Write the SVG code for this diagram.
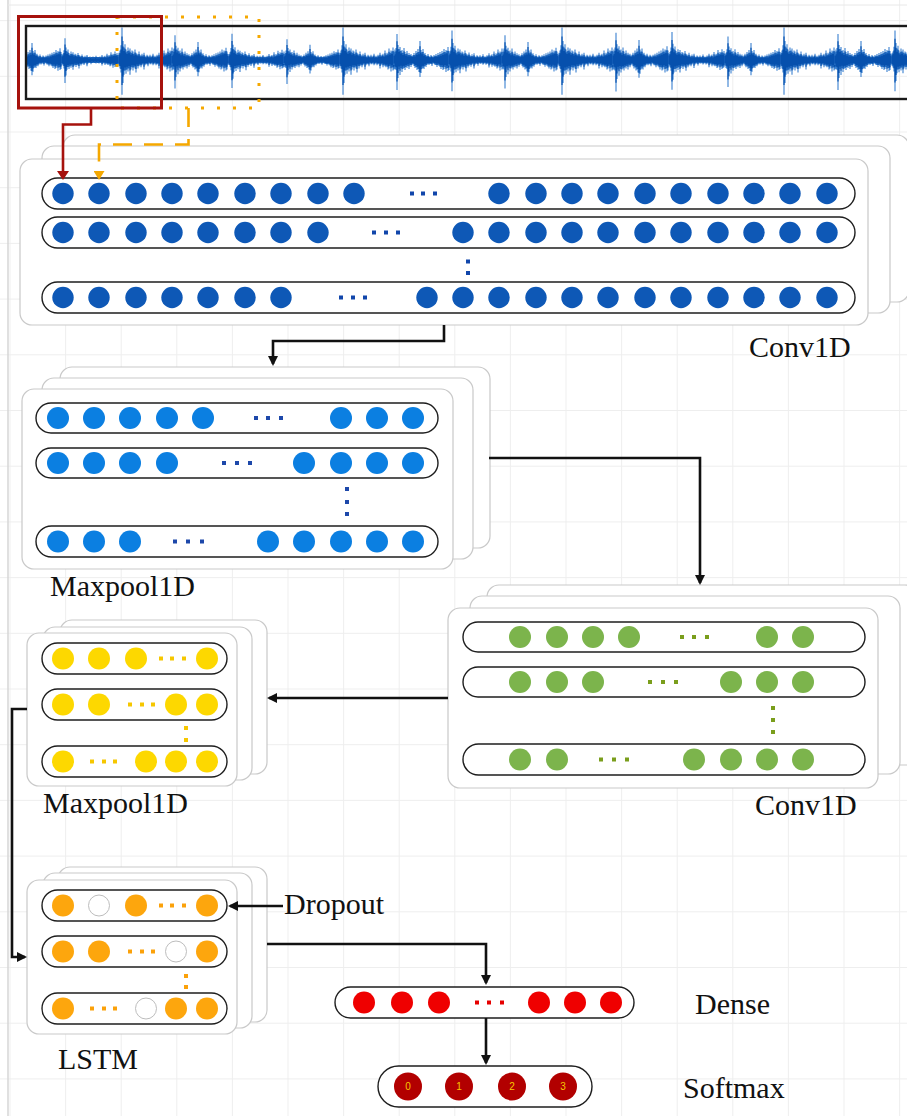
<svg xmlns="http://www.w3.org/2000/svg" xmlns:xlink="http://www.w3.org/1999/xlink" width="907" height="1116" viewBox="0 0 907 1116">
  <style>
    .card{fill:#fff;stroke:#c9c9c9;stroke-width:1.2}
    .pill{fill:#fff;stroke:#1e1e1e;stroke-width:1.4}
    .lbl{font-family:"Liberation Serif","Times New Roman",serif;font-size:30px;fill:#111}
    .num{font-family:"Liberation Sans",Arial,sans-serif;font-size:10px;fill:#f7c600;text-anchor:middle}
    .wire{fill:none;stroke:#111;stroke-width:2.6}
    .c1{fill:#0e58b6}.d1{fill:#1146ab}
    .c2{fill:#0b7fe1}.d2{fill:#1d48aa}
    .c3{fill:#7cb44c}.d3{fill:#7a9e1c}
    .c4{fill:#fdd800}.d4{fill:#f6c700}
    .c5{fill:#fda60d}.d5{fill:#fba10a}
    .cw{fill:#fff;stroke:#bdbdbd;stroke-width:1}
    .c6{fill:#ef0000}.d6{fill:#e60000}
    .c7{fill:#b20000}
    .wl{fill:none;stroke:#3a80d0;stroke-width:1.1}
    .wd{fill:none;stroke:#0650ad;stroke-width:1.15}
  </style>
  <defs>
    <pattern id="grid" x="9.5" y="20.1" width="55.6" height="55.7" patternUnits="userSpaceOnUse">
      <path d="M0 0.5H55.6M0.5 0V55.7" fill="none" stroke="#eeeeee" stroke-width="1"/>
    </pattern>
    <clipPath id="waveClip"><rect x="27" y="27" width="880" height="71"/></clipPath>
    <marker id="ah" viewBox="0 0 10 10" refX="8" refY="5" markerWidth="10" markerHeight="10" markerUnits="userSpaceOnUse" orient="auto">
      <path d="M0 0L10 5L0 10z" fill="#111"/>
    </marker>
    <marker id="ahRed" viewBox="0 0 9 12" refX="7" refY="6" markerWidth="9" markerHeight="12" markerUnits="userSpaceOnUse" orient="auto">
      <path d="M0 0L9 6L0 12z" fill="#a6120d"/>
    </marker>
    <marker id="ahOrange" viewBox="0 0 9 11" refX="7" refY="5.5" markerWidth="9" markerHeight="11" markerUnits="userSpaceOnUse" orient="auto">
      <path d="M0 0L9 5.5L0 11z" fill="#f5a800"/>
    </marker>
    <!-- one burst of the vibration signal, drawn as vertical sample strokes -->
    <path id="pA" d="M0-7V6M1-9V8M2-14V12M3-31V33M4-18V22M5-12V14M6-15V10M7-10V13M8-8V9M9-12V11M10-9V8M11-11V14M12-7V9M13-9V7M14-8V10M15-6V7M16-10V8M17-7V12M18-6V6M19-5V8M20-8V6M21-5V5M22-4V7M23-6V5M24-4V4M25-7V9M26-4V5M27-3V4M28-5V4M29-4V6M30-3V3M31-5V4M32-3V4M33-4V3M34-6V5M35-3V4M36-4V3M37-3V5M38-5V4M39-4V4M40-7V8M41-4V5M42-5V4M43-6V7M44-4V5M45-9V6M46-5V7M47-7V6M48-6V9M49-11V8M50-7V6M51-9V11M52-8V7M53-12V10M54-8V9M55-10V8M56-7V6"/>
    <path id="pB" d="M0-6V5M1-8V9M2-12V10M3-26V30M4-15V18M5-11V9M6-13V15M7-9V8M8-10V12M9-7V9M10-12V8M11-8V10M12-6V7M13-9V8M14-5V6M15-7V9M16-5V5M17-6V7M18-4V5M19-5V4M20-7V6M21-5V8M22-9V7M23-7V10M24-11V9M25-8V12M26-19V17M27-10V13M28-8V9M29-11V8M30-6V9M31-7V6M32-5V7M33-4V5M34-6V4M35-4V5M36-3V4M37-5V4M38-4V6M39-3V3M40-5V4M41-4V5M42-6V5M43-4V7M44-7V5M45-5V6M46-8V7M47-6V9M48-9V7M49-7V10M50-11V9M51-8V7M52-10V12M53-9V8M54-13V11M55-9V10M56-6V5"/>
    <g id="bA"><use xlink:href="#pA" class="wl"/><use xlink:href="#pA" class="wd" transform="scale(1,0.72)"/></g>
    <g id="bB"><use xlink:href="#pB" class="wl"/><use xlink:href="#pB" class="wd" transform="scale(1,0.72)"/></g>
  </defs>

  <!-- page background and drawing grid -->
  <rect x="0" y="0" width="907" height="1116" fill="#fff"/>
  <rect x="0" y="0" width="907" height="1116" fill="url(#grid)"/>
  <path d="M8 0V1116" stroke="#d6d6d6" stroke-width="1.5"/>
  <path d="M8 5H907" stroke="#e8e8e8" stroke-width="1"/>

  <!-- input signal strip -->
  <g id="wave">
    <g clip-path="url(#waveClip)">
      <rect x="27" y="57" width="880" height="6" fill="#0650ad"/>
      <use xlink:href="#bB" transform="translate(6,60) scale(1,0.9)"/>
      <use xlink:href="#bA" transform="translate(62,60) scale(1,0.7)"/>
      <use xlink:href="#bA" transform="translate(119,60) scale(1,1.05)"/>
      <use xlink:href="#bB" transform="translate(172,60) scale(1,0.95)"/>
      <use xlink:href="#bA" transform="translate(229,60) scale(1,0.85)"/>
      <use xlink:href="#bB" transform="translate(284,60) scale(1,0.8)"/>
      <use xlink:href="#bA" transform="translate(340,60) scale(1,1.05)"/>
      <use xlink:href="#bB" transform="translate(394,60) scale(1,1)"/>
      <use xlink:href="#bA" transform="translate(449,60) scale(1,0.95)"/>
      <use xlink:href="#bB" transform="translate(502,60) scale(1,0.95)"/>
      <use xlink:href="#bA" transform="translate(559,60) scale(1,1.05)"/>
      <use xlink:href="#bB" transform="translate(613,60) scale(1,1.05)"/>
      <use xlink:href="#bA" transform="translate(669,60) scale(1,0.9)"/>
      <use xlink:href="#bB" transform="translate(725,60) scale(1,0.9)"/>
      <use xlink:href="#bA" transform="translate(781,60) scale(1,1.05)"/>
      <use xlink:href="#bB" transform="translate(835,60) scale(1,1)"/>
      <use xlink:href="#bA" transform="translate(892,60) scale(1,0.95)"/>
    </g>
    <rect x="26" y="26" width="895" height="73" fill="none" stroke="#1a1a1a" stroke-width="2.4"/>
    <!-- sliding window frames -->
    <rect x="117" y="17" width="142" height="91" fill="none" stroke="#f5a800" stroke-width="3" stroke-dasharray="3 13"/>
    <rect x="18.5" y="16.5" width="143" height="91.5" fill="none" stroke="#a6120d" stroke-width="3"/>
  </g>

  <!-- first convolution layer -->
  <g id="conv1">
    <rect class="card" x="63" y="135" width="846" height="167" rx="12"/>
    <rect class="card" x="42" y="146" width="848" height="167" rx="12"/>
    <rect class="card" x="20" y="159" width="848" height="166" rx="12"/>
    <rect class="pill" x="42" y="178" width="813" height="31" rx="15.5"/>
    <rect class="pill" x="42" y="217" width="813" height="31" rx="15.5"/>
    <rect class="pill" x="42" y="282" width="813" height="31" rx="15.5"/>
    <g class="c1">
      <circle cx="63" cy="193.5" r="10.7"/><circle cx="99" cy="193.5" r="10.7"/><circle cx="136" cy="193.5" r="10.7"/><circle cx="172" cy="193.5" r="10.7"/><circle cx="208" cy="193.5" r="10.7"/><circle cx="245" cy="193.5" r="10.7"/><circle cx="281" cy="193.5" r="10.7"/><circle cx="318" cy="193.5" r="10.7"/><circle cx="354" cy="193.5" r="10.7"/>
      <circle cx="499" cy="193.5" r="10.7"/><circle cx="536" cy="193.5" r="10.7"/><circle cx="572" cy="193.5" r="10.7"/><circle cx="608" cy="193.5" r="10.7"/><circle cx="645" cy="193.5" r="10.7"/><circle cx="681" cy="193.5" r="10.7"/><circle cx="718" cy="193.5" r="10.7"/><circle cx="754" cy="193.5" r="10.7"/><circle cx="790" cy="193.5" r="10.7"/><circle cx="827" cy="193.5" r="10.7"/>
      <circle cx="63" cy="232.5" r="10.7"/><circle cx="99" cy="232.5" r="10.7"/><circle cx="136" cy="232.5" r="10.7"/><circle cx="172" cy="232.5" r="10.7"/><circle cx="208" cy="232.5" r="10.7"/><circle cx="245" cy="232.5" r="10.7"/><circle cx="281" cy="232.5" r="10.7"/><circle cx="318" cy="232.5" r="10.7"/>
      <circle cx="463" cy="232.5" r="10.7"/><circle cx="499" cy="232.5" r="10.7"/><circle cx="536" cy="232.5" r="10.7"/><circle cx="572" cy="232.5" r="10.7"/><circle cx="608" cy="232.5" r="10.7"/><circle cx="645" cy="232.5" r="10.7"/><circle cx="681" cy="232.5" r="10.7"/><circle cx="718" cy="232.5" r="10.7"/><circle cx="754" cy="232.5" r="10.7"/><circle cx="790" cy="232.5" r="10.7"/><circle cx="827" cy="232.5" r="10.7"/>
      <circle cx="63" cy="297.5" r="10.7"/><circle cx="99" cy="297.5" r="10.7"/><circle cx="136" cy="297.5" r="10.7"/><circle cx="172" cy="297.5" r="10.7"/><circle cx="208" cy="297.5" r="10.7"/><circle cx="245" cy="297.5" r="10.7"/><circle cx="281" cy="297.5" r="10.7"/>
      <circle cx="427" cy="297.5" r="10.7"/><circle cx="463" cy="297.5" r="10.7"/><circle cx="499" cy="297.5" r="10.7"/><circle cx="536" cy="297.5" r="10.7"/><circle cx="572" cy="297.5" r="10.7"/><circle cx="608" cy="297.5" r="10.7"/><circle cx="645" cy="297.5" r="10.7"/><circle cx="681" cy="297.5" r="10.7"/><circle cx="718" cy="297.5" r="10.7"/><circle cx="754" cy="297.5" r="10.7"/><circle cx="790" cy="297.5" r="10.7"/><circle cx="827" cy="297.5" r="10.7"/>
    </g>
    <g class="d1">
      <rect x="410" y="191.5" width="4" height="4"/><rect x="421" y="191.5" width="4" height="4"/><rect x="433" y="191.5" width="4" height="4"/>
      <rect x="372" y="230.5" width="4" height="4"/><rect x="384" y="230.5" width="4" height="4"/><rect x="396" y="230.5" width="4" height="4"/>
      <rect x="339" y="295.5" width="4" height="4"/><rect x="351" y="295.5" width="4" height="4"/><rect x="363" y="295.5" width="4" height="4"/>
      <rect x="466" y="259.5" width="4" height="4"/><rect x="466" y="271" width="4" height="4"/>
    </g>
    <text class="lbl" x="749" y="357">Conv1D</text>
  </g>

  <!-- first pooling layer -->
  <g id="pool1">
    <rect class="card" x="60" y="367" width="430" height="181" rx="12"/>
    <rect class="card" x="42" y="378" width="431" height="181" rx="12"/>
    <rect class="card" x="22" y="389" width="431" height="180" rx="12"/>
    <rect class="pill" x="36" y="403" width="402" height="30" rx="15"/>
    <rect class="pill" x="36" y="448" width="402" height="30" rx="15"/>
    <rect class="pill" x="36" y="526" width="402" height="31" rx="15.5"/>
    <g class="c2">
      <circle cx="58" cy="418" r="11"/><circle cx="94" cy="418" r="11"/><circle cx="130" cy="418" r="11"/><circle cx="167" cy="418" r="11"/><circle cx="203" cy="418" r="11"/><circle cx="341" cy="418" r="11"/><circle cx="377" cy="418" r="11"/><circle cx="413" cy="418" r="11"/>
      <circle cx="58" cy="463" r="11"/><circle cx="94" cy="463" r="11"/><circle cx="130" cy="463" r="11"/><circle cx="167" cy="463" r="11"/><circle cx="304" cy="463" r="11"/><circle cx="341" cy="463" r="11"/><circle cx="377" cy="463" r="11"/><circle cx="413" cy="463" r="11"/>
      <circle cx="58" cy="541.5" r="11"/><circle cx="94" cy="541.5" r="11"/><circle cx="130" cy="541.5" r="11"/><circle cx="268" cy="541.5" r="11"/><circle cx="304" cy="541.5" r="11"/><circle cx="341" cy="541.5" r="11"/><circle cx="377" cy="541.5" r="11"/><circle cx="413" cy="541.5" r="11"/>
    </g>
    <g class="d2">
      <rect x="254" y="416" width="4" height="4"/><rect x="266" y="416" width="4" height="4"/><rect x="279" y="416" width="4" height="4"/>
      <rect x="222" y="461" width="4" height="4"/><rect x="235" y="461" width="4" height="4"/><rect x="248" y="461" width="4" height="4"/>
      <rect x="173" y="539.5" width="4" height="4"/><rect x="186" y="539.5" width="4" height="4"/><rect x="200" y="539.5" width="4" height="4"/>
      <rect x="345" y="487" width="4" height="4"/><rect x="345" y="500" width="4" height="4"/><rect x="345" y="512" width="4" height="4"/>
    </g>
    <text class="lbl" x="50" y="596">Maxpool1D</text>
  </g>

  <!-- second convolution layer -->
  <g id="conv2">
    <rect class="card" x="487" y="585" width="430" height="180" rx="12"/>
    <rect class="card" x="470" y="596" width="430" height="178" rx="12"/>
    <rect class="card" x="448" y="608" width="430" height="180" rx="12"/>
    <rect class="pill" x="463" y="622" width="402" height="30" rx="15"/>
    <rect class="pill" x="463" y="667" width="402" height="30" rx="15"/>
    <rect class="pill" x="463" y="744" width="402" height="31" rx="15.5"/>
    <g class="c3">
      <circle cx="520" cy="637" r="11"/><circle cx="557" cy="637" r="11"/><circle cx="593" cy="637" r="11"/><circle cx="629" cy="637" r="11"/><circle cx="767" cy="637" r="11"/><circle cx="803" cy="637" r="11"/>
      <circle cx="520" cy="682" r="11"/><circle cx="557" cy="682" r="11"/><circle cx="593" cy="682" r="11"/><circle cx="731" cy="682" r="11"/><circle cx="767" cy="682" r="11"/><circle cx="803" cy="682" r="11"/>
      <circle cx="520" cy="759.5" r="11"/><circle cx="557" cy="759.5" r="11"/><circle cx="694" cy="759.5" r="11"/><circle cx="731" cy="759.5" r="11"/><circle cx="767" cy="759.5" r="11"/><circle cx="803" cy="759.5" r="11"/>
    </g>
    <g class="d3">
      <rect x="680" y="635" width="4" height="4"/><rect x="692" y="635" width="4" height="4"/><rect x="705" y="635" width="4" height="4"/>
      <rect x="648" y="680" width="4" height="4"/><rect x="661" y="680" width="4" height="4"/><rect x="674" y="680" width="4" height="4"/>
      <rect x="599" y="757.5" width="4" height="4"/><rect x="612" y="757.5" width="4" height="4"/><rect x="625" y="757.5" width="4" height="4"/>
      <rect x="771" y="706" width="4" height="4"/><rect x="771" y="718" width="4" height="4"/><rect x="771" y="730" width="4" height="4"/>
    </g>
    <text class="lbl" x="755" y="815">Conv1D</text>
  </g>

  <!-- second pooling layer -->
  <g id="pool2">
    <rect class="card" x="60" y="620" width="207" height="154" rx="12"/>
    <rect class="card" x="43" y="627" width="209" height="153" rx="12"/>
    <rect class="card" x="27" y="633" width="210" height="153" rx="12"/>
    <rect class="pill" x="42" y="643" width="185" height="31" rx="15.5"/>
    <rect class="pill" x="42" y="689" width="185" height="31" rx="15.5"/>
    <rect class="pill" x="42" y="746" width="185" height="31" rx="15.5"/>
    <g class="c4">
      <circle cx="63" cy="658.5" r="11"/><circle cx="99" cy="658.5" r="11"/><circle cx="136" cy="658.5" r="11"/><circle cx="207" cy="658.5" r="11"/>
      <circle cx="63" cy="704.5" r="11"/><circle cx="99" cy="704.5" r="11"/><circle cx="176" cy="704.5" r="11"/><circle cx="207" cy="704.5" r="11"/>
      <circle cx="63" cy="761.5" r="11"/><circle cx="146" cy="761.5" r="11"/><circle cx="176" cy="761.5" r="11"/><circle cx="207" cy="761.5" r="11"/>
    </g>
    <g class="d4">
      <rect x="159" y="656.5" width="4" height="4"/><rect x="170" y="656.5" width="4" height="4"/><rect x="182" y="656.5" width="4" height="4"/>
      <rect x="128" y="702.5" width="4" height="4"/><rect x="140" y="702.5" width="4" height="4"/><rect x="151" y="702.5" width="4" height="4"/>
      <rect x="90" y="759.5" width="4" height="4"/><rect x="102" y="759.5" width="4" height="4"/><rect x="113" y="759.5" width="4" height="4"/>
      <rect x="184" y="726" width="4" height="4"/><rect x="184" y="738" width="4" height="4"/>
    </g>
    <text class="lbl" x="43" y="813">Maxpool1D</text>
  </g>

  <!-- recurrent layer with dropout -->
  <g id="lstm">
    <rect class="card" x="58" y="867" width="209" height="155" rx="12"/>
    <rect class="card" x="43" y="873" width="209" height="155" rx="12"/>
    <rect class="card" x="27" y="880" width="210" height="154" rx="12"/>
    <rect class="pill" x="42" y="890" width="185" height="31" rx="15.5"/>
    <rect class="pill" x="42" y="936" width="185" height="31" rx="15.5"/>
    <rect class="pill" x="42" y="993" width="185" height="31" rx="15.5"/>
    <g class="c5">
      <circle cx="63" cy="905.5" r="11"/><circle cx="136" cy="905.5" r="11"/><circle cx="207" cy="905.5" r="11"/>
      <circle cx="63" cy="951.5" r="11"/><circle cx="99" cy="951.5" r="11"/><circle cx="207" cy="951.5" r="11"/>
      <circle cx="63" cy="1008.5" r="11"/><circle cx="176" cy="1008.5" r="11"/><circle cx="207" cy="1008.5" r="11"/>
    </g>
    <g class="cw">
      <circle cx="99" cy="905.5" r="10.5"/>
      <circle cx="176" cy="951.5" r="10.5"/>
      <circle cx="146" cy="1008.5" r="10.5"/>
    </g>
    <g class="d5">
      <rect x="159" y="903.5" width="4" height="4"/><rect x="170" y="903.5" width="4" height="4"/><rect x="182" y="903.5" width="4" height="4"/>
      <rect x="128" y="949.5" width="4" height="4"/><rect x="140" y="949.5" width="4" height="4"/><rect x="151" y="949.5" width="4" height="4"/>
      <rect x="90" y="1006.5" width="4" height="4"/><rect x="102" y="1006.5" width="4" height="4"/><rect x="113" y="1006.5" width="4" height="4"/>
      <rect x="184" y="974" width="4" height="4"/><rect x="184" y="985" width="4" height="4"/>
    </g>
    <text class="lbl" x="58" y="1069">LSTM</text>
    <text class="lbl" x="284" y="914">Dropout</text>
  </g>

  <!-- fully connected layer -->
  <g id="dense">
    <rect class="pill" x="335" y="987" width="299" height="31" rx="15.5"/>
    <g class="c6">
      <circle cx="364" cy="1002.5" r="11"/><circle cx="402" cy="1002.5" r="11"/><circle cx="439" cy="1002.5" r="11"/>
      <circle cx="539" cy="1002.5" r="11"/><circle cx="575" cy="1002.5" r="11"/><circle cx="611" cy="1002.5" r="11"/>
    </g>
    <g class="d6">
      <rect x="475" y="1000.5" width="4" height="4"/><rect x="487" y="1000.5" width="4" height="4"/><rect x="500" y="1000.5" width="4" height="4"/>
    </g>
    <text class="lbl" x="695" y="1014">Dense</text>
  </g>

  <!-- output layer -->
  <g id="softmax">
    <rect class="pill" x="378" y="1066" width="214" height="41" rx="20.5"/>
    <g class="c7">
      <circle cx="408" cy="1086.5" r="14"/><circle cx="459" cy="1086.5" r="14"/><circle cx="512" cy="1086.5" r="14"/><circle cx="563" cy="1086.5" r="14"/>
    </g>
    <text class="num" x="408" y="1090">0</text>
    <text class="num" x="459" y="1090">1</text>
    <text class="num" x="512" y="1090">2</text>
    <text class="num" x="563" y="1090">3</text>
    <text class="lbl" x="683" y="1098">Softmax</text>
  </g>

  <!-- connectors -->
  <g id="connectors">
    <path d="M91 108V124.5H63V178" fill="none" stroke="#a6120d" stroke-width="2.6" marker-end="url(#ahRed)"/>
    <path d="M188.5 108V144.5H99V178" fill="none" stroke="#f5a800" stroke-width="2.6" stroke-dasharray="19 12" marker-end="url(#ahOrange)"/>
    <path class="wire" d="M444 325V341H273V364" marker-end="url(#ah)"/>
    <path class="wire" d="M489 458H700V583" marker-end="url(#ah)"/>
    <path class="wire" d="M448 698H269" marker-end="url(#ah)"/>
    <path class="wire" d="M27 709H12V957H25" marker-end="url(#ah)"/>
    <path class="wire" d="M283 906H230" marker-end="url(#ah)"/>
    <path class="wire" d="M267 944H486V983" marker-end="url(#ah)"/>
    <path class="wire" d="M486 1018V1063" marker-end="url(#ah)"/>
  </g>
</svg>
